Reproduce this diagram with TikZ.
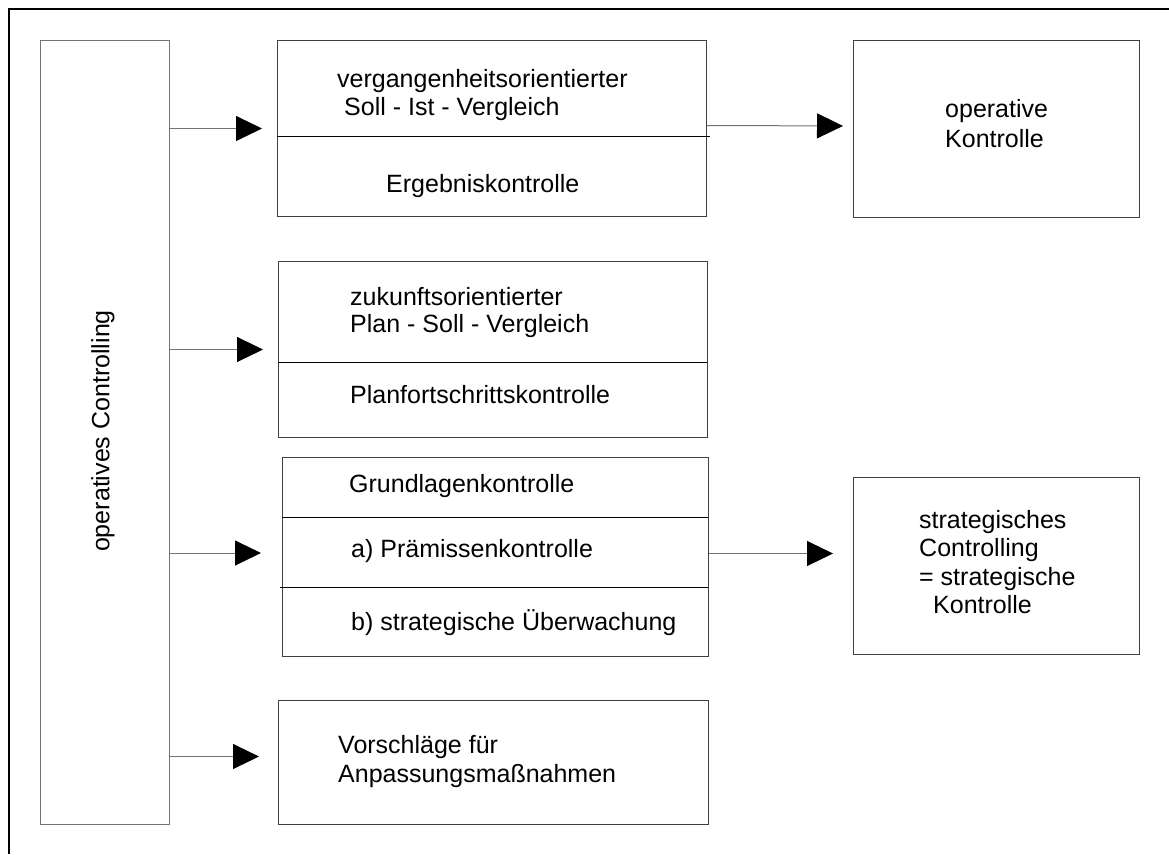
\documentclass[tikz,border=0pt]{standalone}
\usepackage{fontspec}
\setmainfont{Liberation Sans}
\usetikzlibrary{arrows.meta}
\begin{document}
\begin{tikzpicture}[x=1pt,y=-1pt,
  box/.style={draw=black!75, line width=1pt, rectangle, inner sep=0pt, anchor=north west},
  lbl/.style={anchor=base west, inner sep=0pt, font=\fontsize{25}{28}\selectfont},
  conn/.style={draw=black!55, line width=1pt, -{Triangle[length=26pt,width=25pt,color=black]}},
  sep/.style={draw=black, line width=1pt}]
\useasboundingbox (0,0) rectangle (1169,854);
% outer frame (top and left edges)
\draw[line width=2.5pt] (9,854) -- (9,9) -- (1169,9);

% tall box on the left
\node[box, draw=black!55, minimum width=129pt, minimum height=784pt] (lbox) at (40,40) {};
\node[rotate=90, font=\fontsize{25}{28}\selectfont, inner sep=0pt] (lboxtxt) at (103,431) {operatives Controlling};

% box 1
\node[box, minimum width=429pt, minimum height=176pt] (b1) at (277,40) {};
\draw[sep] (277,136) -- (710,136);
\node[lbl] (b1a) at (337,87) {vergangenheitsorientierter};
\node[lbl] (b1b) at (344,115) {Soll - Ist - Vergleich};
\node[lbl] (b1c) at (386,192) {Ergebniskontrolle};

% operative Kontrolle
\node[box, minimum width=286pt, minimum height=177pt] (okon) at (853,40) {};
\node[lbl] (okona) at (945,117) {operative};
\node[lbl] (okonb) at (945,147) {Kontrolle};

% box 2
\node[box, minimum width=429pt, minimum height=176pt] (b2) at (278,261) {};
\draw[sep] (278,362) -- (707,362);
\node[lbl] (b2a) at (350,305) {zukunftsorientierter};
\node[lbl] (b2b) at (350,332) {Plan - Soll - Vergleich};
\node[lbl] (b2c) at (350,403) {Planfortschrittskontrolle};

% box 3
\node[box, minimum width=426pt, minimum height=199pt] (b3) at (282,457) {};
\draw[sep] (282,517) -- (708,517);
\draw[sep] (280,587) -- (708,587);
\node[lbl] (b3a) at (349,492) {Grundlagenkontrolle};
\node[lbl] (b3b) at (351,557) {a) Prämissenkontrolle};
\node[lbl] (b3c) at (351,630) {b) strategische Überwachung};

% strategisches Controlling
\node[box, minimum width=286pt, minimum height=177pt] (strat) at (853,477) {};
\node[lbl] (strata) at (919,528) {strategisches};
\node[lbl] (stratb) at (919,556) {Controlling};
\node[lbl] (stratc) at (919,585) {= strategische};
\node[lbl] (stratd) at (933,613) {Kontrolle};

% box 4
\node[box, minimum width=430pt, minimum height=124pt] (b4) at (278,700) {};
\node[lbl] (b4a) at (338,753) {Vorschläge für};
\node[lbl] (b4b) at (338,782) {Anpassungsmaßnahmen};

% connectors
\draw[conn, shorten >=15pt] (lbox.east |- b1.west) -- (b1.west);
\draw[conn, shorten >=15pt] (lbox.east |- b2.west) -- (b2.west);
\draw[conn, shorten >=21pt] ([yshift=4pt]lbox.east |- b3.west) -- ([yshift=4pt]b3.west);
\draw[conn, shorten >=19pt] ([yshift=6pt]lbox.east |- b4.west) -- ([yshift=6pt]b4.west);
\draw[conn, shorten >=10pt] ([yshift=3pt]b1.east) -- ([yshift=3pt]okon.west);
\draw[conn, shorten >=20pt] ([yshift=3.5pt]b3.east) -- ([yshift=3.5pt]b3.east -| strat.west);
\end{tikzpicture}
\end{document}
